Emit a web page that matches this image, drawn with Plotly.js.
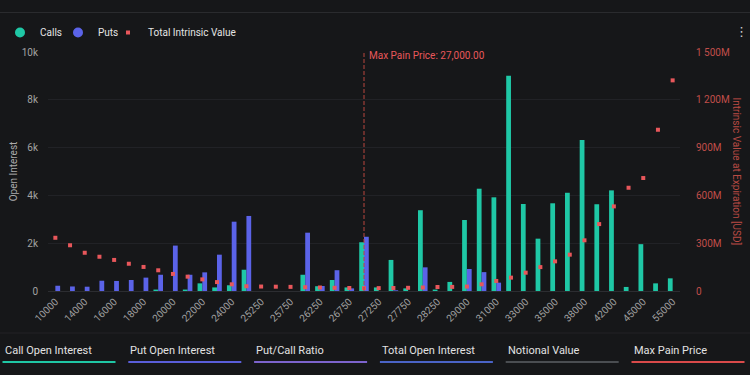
<!DOCTYPE html>
<html><head><meta charset="utf-8">
<script src="https://cdn.plot.ly/plotly-3.0.1.min.js"></script>
<style>html,body{margin:0;padding:0;background:#161719;overflow:hidden}#chart{width:750px;height:375px}</style>
</head><body><div id="chart"></div>
<script>
// ---- data ----
const strikes = ['10000','12000','14000','15000','16000','17000','18000','19000','20000','21000','22000','23000','24000','25000','25250','25500','25750','26000','26250','26500','26750','27000','27250','27500','27750','28000','28250','28500','29000','30000','31000','32000','33000','34000','35000','36000','38000','40000','42000','44000','45000','50000','55000'];
const callsOI = [0,0,0,0,0,0,0,60,0,60,320,150,240,890,0,0,0,680,200,460,150,2040,150,1300,110,3380,60,380,2970,4280,3920,9010,3640,2190,3670,4110,6320,3630,4210,170,1960,320,530];
const putsOI  = [220,190,180,430,420,460,560,680,1900,680,780,1520,2900,3140,0,0,0,2440,210,870,110,2270,0,30,0,990,0,0,920,790,350,0,0,0,0,0,0,0,0,0,0,0,0];
const intrinsicUSD = [334e6,287e6,240e6,215e6,195e6,171e6,151e6,130e6,107e6,90e6,73e6,56e6,42e6,30e6,28e6,27e6,26e6,24e6,22e6,20e6,19e6,18e6,18e6,19e6,20e6,22e6,25e6,26e6,28e6,42e6,63e6,84e6,115e6,150e6,186e6,228e6,318e6,420e6,531e6,648e6,709e6,1012e6,1322e6];
const xTickLabels = ['10000','14000','16000','18000','20000','22000','24000','25250','25750','26250','26750','27250','27750','28250','29000','31000','33000','35000','38000','42000','45000','55000'];
const yTickVals = [0,2000,4000,6000,8000,10000];
const yTickText = ['0','2k','4k','6k','8k','10k'];
const y2TickVals = [0,300e6,600e6,900e6,1200e6,1500e6];
const y2TickText = ['0','300M','600M','900M','1 200M','1 500M'];
const maxPain = '27000';
const maxPainLabel = 'Max Pain Price: 27,000.00';
const statLabels = ['Call Open Interest','Put Open Interest','Put/Call Ratio','Total Open Interest','Notional Value','Max Pain Price'];
const statColors = ['#1fc6a4','#5a5ed9','#7c63cc','#4a63c6','#4a4d51','#d94a4a'];

// ---- styles ----
const W=750,H=375,ML=48,MR=70,MT=52,MB=84;
const PW=W-ML-MR, PH=H-MT-MB;
const px=v=>(v-ML)/PW, py=v=>(H-MB-v)/PH;
const CALL='#1fc8a6', PUT='#5b63e8', RED='#e8575b';
const FONT='Roboto, sans-serif';

const traces = [
  {type:'bar', name:'Calls', x:strikes, y:callsOI, marker:{color:CALL}, showlegend:false, hoverinfo:'x+y'},
  {type:'bar', name:'Puts', x:strikes, y:putsOI, marker:{color:PUT}, showlegend:false, hoverinfo:'x+y'},
  {type:'scatter', mode:'markers', name:'Calls', x:[null], y:[null], marker:{color:CALL, size:10, symbol:'circle'}, showlegend:true, legend:'legend'},
  {type:'scatter', mode:'markers', name:'Puts', x:[null], y:[null], marker:{color:PUT, size:10, symbol:'circle'}, showlegend:true, legend:'legend2'},
  {type:'scatter', mode:'markers', name:'Total Intrinsic Value', x:strikes, y:intrinsicUSD, yaxis:'y2', legend:'legend3', marker:{color:RED, size:4, symbol:'square'}}
];

const mpIdx = strikes.indexOf(maxPain);
const shapes = [
  {type:'line', xref:'paper', yref:'paper', x0:px(0), x1:px(W), y0:py(12.5), y1:py(12.5), line:{color:'#2a2b2e', width:1}},
  {type:'line', xref:'paper', yref:'paper', x0:px(0), x1:px(W), y0:py(333), y1:py(333), line:{color:'#222326', width:1}},
  {type:'line', xref:'x', yref:'paper', x0:mpIdx, x1:mpIdx, y0:0, y1:1, line:{color:'#b8463f', width:1, dash:'4px,2px'}}
];
const annotations = [
  {xref:'x', yref:'paper', x:mpIdx, y:1, xanchor:'left', yanchor:'middle', xshift:3, yshift:-3, text:maxPainLabel, showarrow:false, font:{family:FONT, size:10, color:RED}},
  {xref:'paper', yref:'paper', x:px(736), y:0.5, xanchor:'center', yanchor:'middle', textangle:90, text:'Intrinsic Value at Expiration [USD]', showarrow:false, font:{family:FONT, size:10, color:'#b84a44'}},
  {xref:'paper', yref:'paper', x:px(741), y:py(31), xanchor:'center', yanchor:'middle', text:'⋮', showarrow:false, font:{family:'DejaVu Sans', size:13, color:'#cfcfcf'}}
];
statLabels.forEach((t,i)=>{
  const x0 = 2.5 + i*125.8;
  annotations.push({xref:'paper', yref:'paper', x:px(x0), y:py(350), xanchor:'left', yanchor:'middle', text:t, showarrow:false, font:{family:FONT, size:11, color:'#e2e2e2'}});
  shapes.push({type:'line', xref:'paper', yref:'paper', x0:px(x0), x1:px(x0+113), y0:py(362), y1:py(362), line:{color:statColors[i], width:2}});
});

const legendBase = (leftPx)=>({orientation:'h', xref:'container', yref:'container', x:leftPx/W, y:1-18/375, xanchor:'left', yanchor:'top',
          font:{family:FONT, size:10, color:'#e4e4e4'}, bgcolor:'rgba(0,0,0,0)', traceorder:'normal', itemwidth:30});

const layout = {
  width:W, height:H,
  margin:{l:ML, r:MR, t:MT, b:MB, pad:0},
  paper_bgcolor:'#161719', plot_bgcolor:'#161719',
  font:{family:FONT, size:10, color:'#a3a3a3'},
  barmode:'group', bargap:0.35, bargroupgap:0,
  showlegend:true,
  legend:legendBase(0), legend2:legendBase(58), legend3:legendBase(108),
  xaxis:{type:'category', categoryorder:'array', categoryarray:strikes, range:[-0.5, strikes.length-0.5],
         tickmode:'array', tickvals:xTickLabels, ticktext:xTickLabels, tickangle:-45,
         tickfont:{family:FONT, size:10, color:'#a0a0a0'}, showgrid:false, zeroline:false, showline:false, ticks:'', ticklabelstandoff:2},
  yaxis:{range:[0,10000], tickmode:'array', tickvals:yTickVals, ticktext:yTickText, showgrid:true, gridcolor:'#212226', gridwidth:1,
         zeroline:true, zerolinecolor:'#2c2d31', zerolinewidth:1, ticks:'', ticklabelstandoff:9,
         tickfont:{family:FONT, size:10, color:'#a3a3a3'},
         title:{text:'Open Interest', font:{family:FONT, size:10, color:'#ababab'}, standoff:2}},
  yaxis2:{overlaying:'y', side:'right', range:[0,1.5e9], tickmode:'array', tickvals:y2TickVals, ticktext:y2TickText,
          showgrid:false, zeroline:false, ticks:'', ticklabelstandoff:15, tickfont:{family:FONT, size:10, color:'#c14e4a'}},
  shapes:shapes, annotations:annotations
};
Plotly.newPlot('chart', traces, layout, {displayModeBar:false, staticPlot:true});
</script></body></html>
